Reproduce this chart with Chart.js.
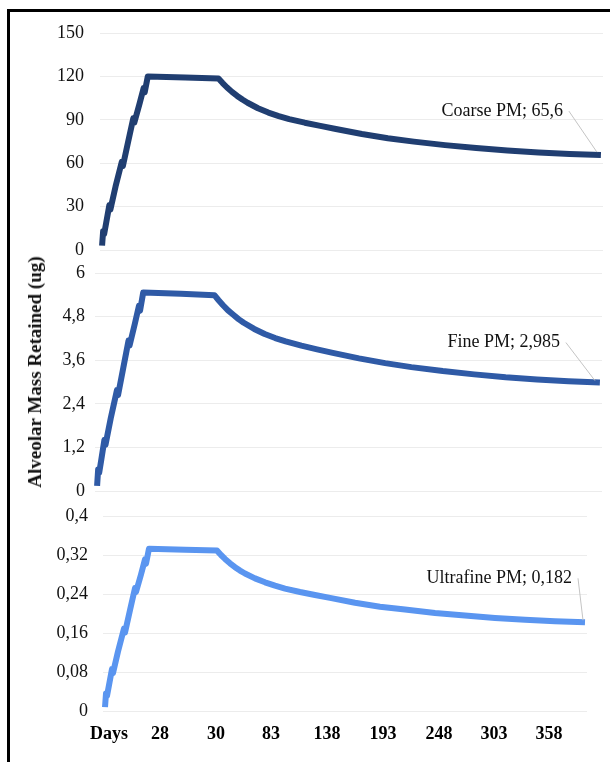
<!DOCTYPE html>
<html>
<head>
<meta charset="utf-8">
<script src="https://cdn.jsdelivr.net/npm/chart.js@4"></script>
<style>
  html, body { margin: 0; padding: 0; background: #fff; }
  #page { position: relative; width: 610px; height: 762px; overflow: hidden; }
  #frame { position: absolute; left: 7px; top: 9px; width: 620px; height: 800px; border-top: 3px solid #000; border-left: 3px solid #000; }
  canvas { position: absolute; left: 0; }
  #ytitle { position: absolute; left: 35px; top: 372px; transform: translate(-50%, -50%) rotate(-90deg); font: bold 19px "Liberation Serif", serif; white-space: nowrap; color: #111; }
</style>
</head>
<body>
<div id="page">
  <div id="frame"></div>
  <canvas id="coarseChart" width="610" height="262" style="top:0px"></canvas>
  <canvas id="fineChart" width="610" height="240" style="top:262px"></canvas>
  <canvas id="ultraChart" width="610" height="260" style="top:502px"></canvas>
  <div id="ytitle">Alveolar Mass Retained (ug)</div>
</div>
<script>
(function() {
  // category position of each point (same for all three panels)
  var xIndex = [0, 1, 2, 4, 7, 8, 13, 19, 20, 25, 30, 31, 36, 40, 41, 44, 80, 112, 116, 120, 125, 130, 135, 140, 150, 160, 170, 180, 195, 210, 225, 250, 275, 300, 330, 360, 390, 420, 450, 480];

  var coarse = [3, 13, 11, 19, 31, 28, 44, 61, 58, 74.5, 91, 88, 101, 112, 109, 120, 119.3, 118.5, 115.4, 112.5, 109.3, 106.5, 104, 101.8, 98, 95, 92.6, 90.5, 88, 85.8, 83.6, 80.2, 77.3, 74.9, 72.5, 70.5, 68.8, 67.4, 66.4, 65.6];
  var fine = [0.14, 0.59, 0.5, 0.86, 1.41, 1.27, 2, 2.78, 2.64, 3.39, 4.14, 4, 4.6, 5.1, 4.96, 5.46, 5.43, 5.39, 5.25, 5.12, 4.97, 4.85, 4.73, 4.63, 4.46, 4.32, 4.21, 4.12, 4, 3.9, 3.8, 3.65, 3.52, 3.41, 3.3, 3.21, 3.13, 3.07, 3.02, 2.985];
  var ultrafine = [0.008, 0.036, 0.031, 0.053, 0.086, 0.078, 0.122, 0.169, 0.161, 0.207, 0.252, 0.244, 0.28, 0.311, 0.302, 0.333, 0.331, 0.329, 0.32, 0.312, 0.303, 0.295, 0.288, 0.282, 0.272, 0.264, 0.257, 0.251, 0.244, 0.238, 0.232, 0.222, 0.214, 0.208, 0.201, 0.196, 0.191, 0.187, 0.184, 0.182];

  var coarseTicks = [0, 30, 60, 90, 120, 150];
  var fineTicks = [0, 1.2, 2.4, 3.6, 4.8, 6];
  var ultraTicks = [0, 0.08, 0.16, 0.24, 0.32, 0.4];

  var xTickPos = [4, 55, 111, 166, 222, 278, 334, 389, 444];
  var xLabels = ['Days', '28', '30', '83', '138', '193', '248', '303', '358'];

  var SERIF = 'Liberation Serif';

  function comma(v) { return String(v).replace('.', ','); }

  // "Name; value" label with a thin leader line to the last point
  var endLabel = {
    id: 'endLabel',
    afterDatasetsDraw: function(chart, args, opts) {
      var meta = chart.getDatasetMeta(0);
      var pt = meta.data[meta.data.length - 1];
      var ds = chart.data.datasets[0];
      var txt = ds.label + '; ' + comma(ds.data[ds.data.length - 1].y);
      var ctx = chart.ctx;
      var tx = pt.x + opts.dx, ty = pt.y + opts.dy;
      ctx.save();
      ctx.strokeStyle = '#c4c4c4';
      ctx.lineWidth = 1;
      ctx.beginPath();
      ctx.moveTo(tx + 6, ty);
      ctx.lineTo(pt.x + opts.ex, pt.y + opts.ey);
      ctx.stroke();
      ctx.font = '18px "' + SERIF + '"';
      ctx.fillStyle = '#111';
      ctx.textAlign = 'right';
      ctx.textBaseline = 'middle';
      ctx.fillText(txt, tx, ty);
      ctx.restore();
    }
  };

  function makePanel(id, name, values, color, yTicks, box, showX, lbl) {
    var pts = xIndex.map(function(x, i) { return { x: x, y: values[i] }; });
    return new Chart(document.getElementById(id).getContext('2d'), {
      type: 'line',
      data: { datasets: [{
        label: name, data: pts, borderColor: color, borderWidth: 6,
        borderJoinStyle: 'round', pointRadius: 0, fill: false, tension: 0, clip: 8
      }] },
      plugins: [endLabel],
      options: {
        responsive: false,
        animation: false,
        layout: { padding: { top: box.top, right: box.right, bottom: box.bottom, left: 0 } },
        plugins: {
          legend: { display: false },
          tooltip: { enabled: false },
          endLabel: lbl
        },
        scales: {
          x: {
            type: 'linear', min: -2, max: 482, display: showX,
            grid: { display: false }, border: { display: false },
            afterBuildTicks: function(s) { s.ticks = xTickPos.map(function(v) { return { value: v }; }); },
            afterFit: function(s) { s.height = showX ? 40 : 0; },
            ticks: {
              autoSkip: false, maxRotation: 0, padding: 5, color: '#000',
              font: { family: SERIF, size: 18, weight: 'bold' },
              callback: function(v, i) { return xLabels[i]; }
            }
          },
          y: {
            min: 0, max: yTicks[yTicks.length - 1],
            afterBuildTicks: function(s) { s.ticks = yTicks.map(function(v) { return { value: v }; }); },
            afterFit: function(s) { s.width = box.yWidth; },
            // transparent tick marks push the labels left without adding top padding
            grid: { color: '#ececec', drawTicks: true, tickLength: box.tickPad, tickColor: 'rgba(0,0,0,0)' },
            border: { display: false },
            ticks: {
              padding: 0, color: '#111',
              font: { family: SERIF, size: 18 },
              callback: function(v) { return comma(v); }
            }
          }
        }
      }
    });
  }

  function init() {
    makePanel('coarseChart', 'Coarse PM', coarse, '#203e71', coarseTicks,
      { top: 33, bottom: 12, right: 7, yWidth: 100, tickPad: 16 }, false,
      { dx: -38, dy: -44, ex: -4, ey: -3 });
    makePanel('fineChart', 'Fine PM', fine, '#2f5aa6', fineTicks,
      { top: 11, bottom: 11, right: 8, yWidth: 95, tickPad: 10 }, false,
      { dx: -40, dy: -40, ex: -5, ey: -2 });
    makePanel('ultraChart', 'Ultrafine PM', ultrafine, '#5a95f0', ultraTicks,
      { top: 14, bottom: 11, right: 23, yWidth: 103, tickPad: 15 }, true,
      { dx: -13, dy: -44, ex: -2, ey: -2 });
  }

  if (document.readyState === 'loading') {
    document.addEventListener('DOMContentLoaded', init);
  } else {
    init();
  }
})();
</script>
</body>
</html>
